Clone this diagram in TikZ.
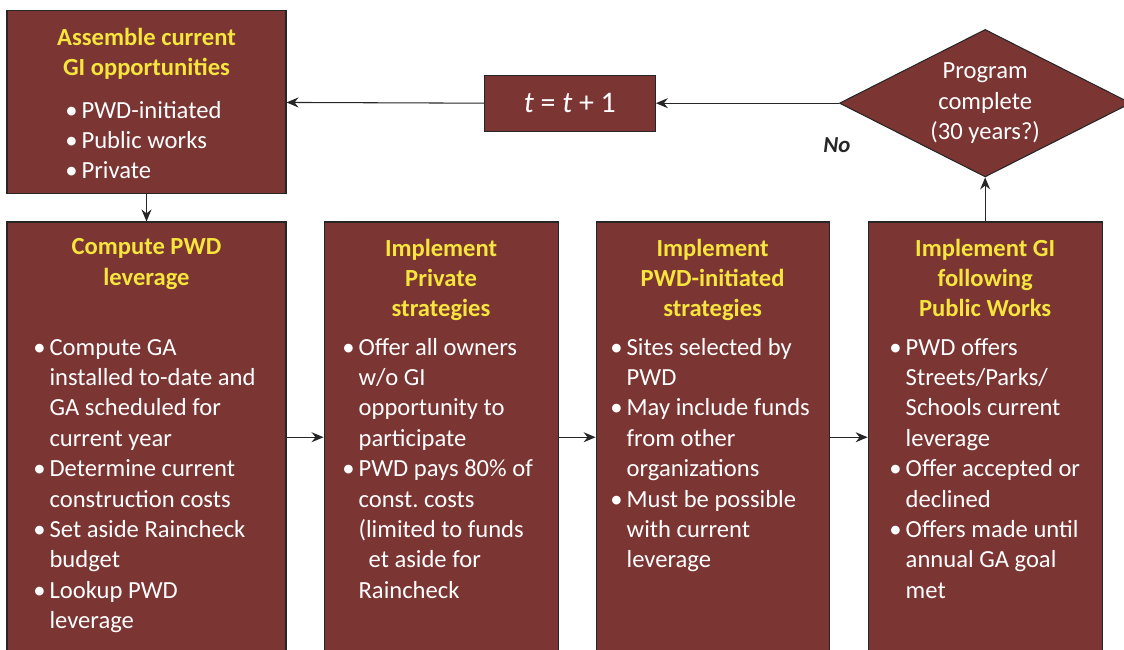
\documentclass[tikz,border=0pt]{standalone}
\usepackage{fontspec}
\setmainfont{Carlito}
\usepackage{tikz}
\usetikzlibrary {arrows.meta,
                 positioning,
                 shapes.geometric}
\definecolor{boxred}{HTML}{7B3533}
\definecolor{titleyellow}{HTML}{F5E53C}
\definecolor{edgegray}{HTML}{262626}
\newcommand{\bodyfont}{\fontsize{14}{17.3}\selectfont}
\tikzset{
        base/.style={draw=edgegray, line width=0.6pt, fill=boxred},
        proc/.style={base, rectangle, inner sep=0pt},
        test/.style={base, diamond, inner sep=0pt},
        heading/.style={inner sep=0pt, align=center, text=titleyellow,
                        font=\bodyfont\bfseries},
        items/.style={inner sep=0pt, text=white, font=\bodyfont},
        myarrow/.style={-{Stealth[length=2.4mm, width=2mm, inset=0.8mm]},
                        line width=0.6pt, draw=edgegray},
 }

\begin{document}
\begin{tikzpicture}
    \useasboundingbox (0,0) rectangle (22.48,13);

    % bottom row of boxes
    \node[proc, minimum width=5.58cm, minimum height=8.61cm] (c1) at (2.93,4.255) {};
    \node[proc, minimum width=4.68cm, minimum height=8.61cm, right=0.74cm of c1] (c2) {};
    \node[proc, minimum width=4.66cm, minimum height=8.61cm, right=0.74cm of c2] (c3) {};
    \node[proc, minimum width=4.68cm, minimum height=8.61cm, right=0.76cm of c3] (c4) {};

    % top row
    \node[proc, minimum width=5.58cm, minimum height=3.66cm, above=0.54cm of c1] (assemble) {};
    \node[test, minimum width=5.83cm, minimum height=2.95cm, above=0.88cm of c4] (done) {};
    \node[proc, minimum width=3.42cm, minimum height=1.12cm, text=white,
          font=\fontsize{17}{20}\selectfont, left=3.66cm of done] (tstep)
          {\textit{t} = \textit{t} + 1};

    \node[items, align=center] (donetext) at (done) {Program\\complete\\(30 years?)};
    \node[font=\fontsize{13}{16}\selectfont\bfseries\itshape, text=edgegray]
          (no) at (16.74,10.1) {No};

    % titles
    \node[heading, below=0.34cm of assemble.north] (atitle) {Assemble current\\GI opportunities};
    \node[heading, below=0.34cm of c1.north] (c1title) {Compute PWD\\leverage};
    \node[heading, below=0.34cm of c2.north] (c2title) {Implement\\Private\\strategies};
    \node[heading, below=0.34cm of c3.north] (c3title) {Implement\\PWD-initiated\\strategies};
    \node[heading, below=0.34cm of c4.north] (c4title) {Implement GI\\following\\Public Works};

    % bullet lists
    \node[items, below right=1.72cm and 1.17cm of assemble.north west] (alist) {%
      \begin{tabular}{@{}l@{\hspace{0.08cm}}l@{}}
        \textbullet & PWD-initiated\\
        \textbullet & Public works\\
        \textbullet & Private
      \end{tabular}};
    \node[items, below right=2.24cm and 0.53cm of c1.north west] (c1list) {%
      \begin{tabular}{@{}l@{\hspace{0.08cm}}l@{}}
        \textbullet & Compute GA\\
                    & installed to-date and\\
                    & GA scheduled for\\
                    & current year\\
        \textbullet & Determine current\\
                    & construction costs\\
        \textbullet & Set aside Raincheck\\
                    & budget\\
        \textbullet & Lookup PWD\\
                    & leverage
      \end{tabular}};
    \node[items, below right=2.24cm and 0.37cm of c2.north west] (c2list) {%
      \begin{tabular}{@{}l@{\hspace{0.08cm}}l@{}}
        \textbullet & Offer all owners\\
                    & w/o GI\\
                    & opportunity to\\
                    & participate\\
        \textbullet & PWD pays 80\% of\\
                    & const.\ costs\\
                    & (limited to funds\\
                    & \hspace{0.2cm}et aside for\\
                    & Raincheck
      \end{tabular}};
    \node[items, below right=2.24cm and 0.29cm of c3.north west] (c3list) {%
      \begin{tabular}{@{}l@{\hspace{0.08cm}}l@{}}
        \textbullet & Sites selected by\\
                    & PWD\\
        \textbullet & May include funds\\
                    & from other\\
                    & organizations\\
        \textbullet & Must be possible\\
                    & with current\\
                    & leverage
      \end{tabular}};
    \node[items, below right=2.24cm and 0.43cm of c4.north west] (c4list) {%
      \begin{tabular}{@{}l@{\hspace{0.08cm}}l@{}}
        \textbullet & PWD offers\\
                    & Streets/Parks/\\
                    & Schools current\\
                    & leverage\\
        \textbullet & Offer accepted or\\
                    & declined\\
        \textbullet & Offers made until\\
                    & annual GA goal\\
                    & met
      \end{tabular}};

    % connectors
    \draw[myarrow] (assemble.south) -- (c1.north);
    \draw[myarrow] (c1.east) -- (c2.west);
    \draw[myarrow] (c2.east) -- (c3.west);
    \draw[myarrow] (c3.east) -- (c4.west);
    \draw[myarrow] (c4.north) -- (done.south);
    \draw[myarrow] (done.west) -- (tstep.east);
    \draw[myarrow] (tstep.west) -- (assemble.east);
\end{tikzpicture}
\end{document}
